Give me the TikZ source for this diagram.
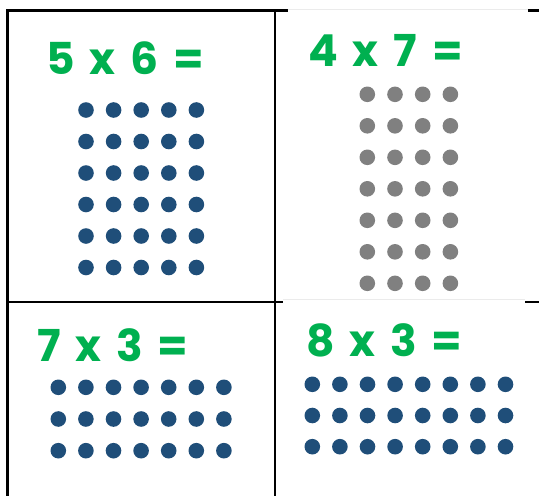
\documentclass[tikz,border=0pt]{standalone}
\usepackage{fontspec}
\newfontfamily\sumfont{Poppins}[WordSpace=1.6]
\usepackage{xcolor}
\usepackage{tikz}
\definecolor{sumgreen}{RGB}{0,176,80}
\definecolor{dotblue}{RGB}{31,78,121}
\definecolor{dotgray}{RGB}{128,128,128}

\begin{document}
\begin{tikzpicture}[
  x=1pt, y=-1pt,
  sum/.style={
    anchor=base west,
    inner sep=0pt,
    text=sumgreen,
    font=\sumfont\bfseries\fontsize{44}{44}\selectfont
  },
  grid/.style={line width=2.2pt, black},
  edge/.style={line width=0.6pt, black!8},
  dot/.style={fill=#1}
]
\useasboundingbox (0,0) rectangle (539,496);

% Table lines
\draw[grid] (7.5,496) -- (7.5,10.5) -- (287.5,10.5);
\draw[grid] (527.5,10.5) -- (539,10.5);
\draw[grid] (275,10.5) -- (275,496);
\draw[grid] (7.5,302) -- (283,302);
\draw[grid] (525,302) -- (539,302);

% Pasted picture edges (right column)
\draw[edge] (287.5,9) -- (527.5,9);
\draw[edge] (283,299) -- (525,299);

% Sums
\node[sum] (sumA) at (46,74)    {5 x 6 =};
\node[sum] (sumB) at (308,66.5) {4 x 7 =};
\node[sum] (sumC) at (37,361.5) {7 x 3 =};
\node[sum] (sumD) at (306,356.5) {8 x 3 =};

% Dot arrays
\foreach \i in {0,...,4}
  \foreach \j in {0,...,5}
    \path[dot=dotblue] (86+27.6*\i, 110+31.5*\j) circle (7.8pt);
\foreach \i in {0,...,3}
  \foreach \j in {0,...,6}
    \path[dot=dotgray] (367.3+27.7*\i, 94.3+31.5*\j) circle (7.8pt);
\foreach \i in {0,...,6}
  \foreach \j in {0,...,2}
    \path[dot=dotblue] (58.3+27.6*\i, 387.3+31.7*\j) circle (7.8pt);
\foreach \i in {0,...,7}
  \foreach \j in {0,...,2}
    \path[dot=dotblue] (312.3+27.6*\i, 384.3+31.2*\j) circle (7.8pt);

\end{tikzpicture}
\end{document}
